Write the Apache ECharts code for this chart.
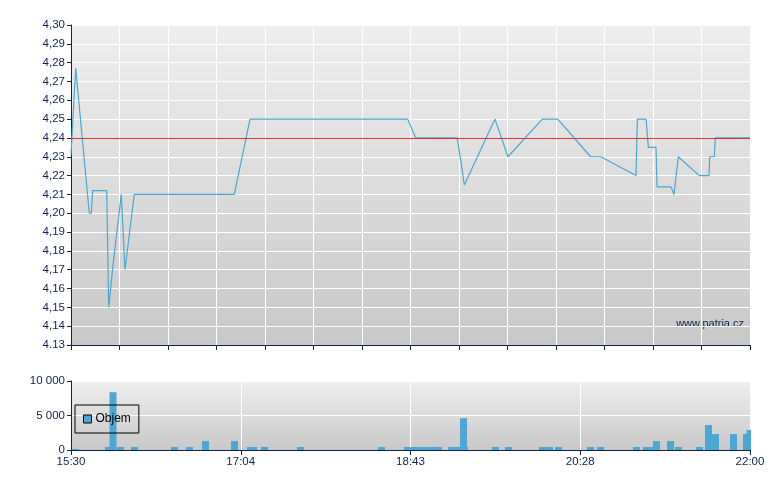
<!DOCTYPE html>
<html>
<head>
<meta charset="utf-8">
<script src="https://cdn.jsdelivr.net/npm/echarts@6/dist/echarts.min.js"></script>
<style>
  html, body { margin: 0; padding: 0; background: #fff; }
  #chart1 { width: 780px; height: 490px; }
</style>
</head>
<body>
<div id="chart1"></div>
<script>
// session position 0..140 (15:30 .. 22:00)
var priceT = [0, 0.97, 3.77, 4.19, 4.47, 7.36, 7.77, 8.60, 10.37, 10.58, 11.13, 13.05, 33.67, 36.91,
  69.42, 71.07, 79.65, 81.10, 87.42, 90.10, 97.18, 100.35, 107.16, 109.22, 116.50, 116.77, 118.56,
  119.04, 120.62, 120.83, 123.71, 124.33, 125.22, 129.55, 131.55, 131.70, 132.64, 132.85, 140];
var priceV = [4.231, 4.277, 4.20, 4.20, 4.212, 4.212, 4.15, 4.171, 4.21, 4.21, 4.17, 4.21, 4.21, 4.25,
  4.25, 4.24, 4.24, 4.215, 4.25, 4.23, 4.25, 4.25, 4.23, 4.23, 4.22, 4.25, 4.25,
  4.235, 4.235, 4.214, 4.214, 4.21, 4.23, 4.22, 4.22, 4.23, 4.23, 4.24, 4.24];
var refPrice = 4.24;

var volT = [0.89, 7.73, 8.66, 10.21, 13.09, 21.34, 24.43, 27.73, 33.71, 37.01, 37.63, 39.90, 47.32,
  64.02, 69.38, 70.83, 72.27, 73.71, 75.16, 75.77, 78.46, 79.49, 81.14, 80.93, 87.53, 90.21,
  97.22, 98.66, 100.52, 107.12, 109.18, 116.60, 118.66, 119.28, 120.72, 123.61, 125.26, 129.59,
  131.44, 132.89, 136.60, 139.28, 140];
var volV = [150, 430, 8370, 430, 430, 430, 430, 1300, 1300, 430, 430, 430, 430,
  430, 430, 430, 430, 430, 430, 430, 430, 430, 430, 4620, 430, 430,
  430, 430, 430, 430, 430, 430, 430, 430, 1300, 1300, 430, 430,
  3610, 2310, 2310, 2310, 2890];

var timeLabels = ['15:30', '17:04', '18:43', '20:28', '22:00'];
var priceLabels = ['4.13', '4,14', '4,15', '4,16', '4,17', '4,18', '4,19', '4,20', '4,21',
  '4,22', '4,23', '4,24', '4,25', '4,26', '4,27', '4,28', '4,29', '4,30'];
var volLabels = ['0', '5 000', '10 000'];

var navy = '#0f2350';
var lineBlue = '#4aa8d2';
var bg = new echarts.graphic.LinearGradient(0, 0, 0, 1, [
  { offset: 0, color: '#efefef' }, { offset: 1, color: '#c8c8c8' }
]);

var priceData = [];
for (var i = 0; i < priceT.length; i++) priceData.push([priceT[i], priceV[i]]);
var volData = [];
for (var j = 0; j < volT.length; j++) volData.push([volT[j], volV[j]]);

var myChart = echarts.init(document.getElementById('chart1'));
var option = {
  animation: false,
  textStyle: { fontFamily: 'Liberation Sans' },
  grid: [
    { left: 71, right: 30, top: 25, height: 320, show: true, borderWidth: 0, backgroundColor: bg },
    { left: 71, right: 30, top: 381, height: 69, show: true, borderWidth: 0, backgroundColor: bg }
  ],
  legend: {
    data: [{ name: 'Objem', itemStyle: { color: lineBlue, borderColor: '#000', borderWidth: 1 } }],
    left: 75, top: 405,
    padding: [8, 8, 8, 8],
    borderColor: '#000', borderWidth: 1, borderRadius: 0,
    icon: 'rect', itemWidth: 8, itemHeight: 8, itemGap: 4,
    textStyle: { color: '#000', fontSize: 12, fontFamily: 'Liberation Sans', padding: [0, 0, 0, -1] }
  },
  xAxis: [
    {
      gridIndex: 0, type: 'value', min: 0, max: 140, interval: 10,
      axisLine: { lineStyle: { color: navy, width: 1 } },
      axisTick: { show: true, length: 5, lineStyle: { color: navy } },
      axisLabel: { show: false },
      splitLine: { show: true, lineStyle: { color: '#ffffff', width: 1 } }
    },
    {
      gridIndex: 1, type: 'value', min: 0, max: 140, interval: 35,
      axisLine: { lineStyle: { color: navy, width: 1 } },
      axisTick: { show: true, length: 5, lineStyle: { color: navy } },
      axisLabel: {
        color: navy, fontSize: 11.5, margin: 6,
        formatter: function (v) { return timeLabels[Math.round(v / 35)]; }
      },
      splitLine: { show: true, lineStyle: { color: '#ffffff', width: 1 } }
    }
  ],
  yAxis: [
    {
      gridIndex: 0, type: 'value', min: 4.13, max: 4.30, interval: 0.01,
      axisLine: { show: true, lineStyle: { color: navy, width: 1 } },
      axisTick: { show: true, length: 4, lineStyle: { color: navy } },
      axisLabel: {
        color: navy, fontSize: 11.5, margin: 6,
        formatter: function (v) { return priceLabels[Math.round((v - 4.13) / 0.01)]; }
      },
      splitLine: { show: true, lineStyle: { color: '#ffffff', width: 1 } }
    },
    {
      gridIndex: 1, type: 'value', min: 0, max: 10000, interval: 5000,
      axisLine: { show: true, lineStyle: { color: navy, width: 1 } },
      axisTick: { show: true, length: 4, lineStyle: { color: navy } },
      axisLabel: {
        color: navy, fontSize: 11.5, margin: 6,
        formatter: function (v) { return volLabels[Math.round(v / 5000)]; }
      },
      splitLine: { show: true, lineStyle: { color: '#ffffff', width: 1 } }
    }
  ],
  graphic: [
    {
      type: 'text', right: 36, top: 318,
      style: { text: 'www.patria.cz', fill: navy, font: '11px "Liberation Sans"' }
    }
  ],
  series: [
    {
      name: 'Cena', type: 'line', xAxisIndex: 0, yAxisIndex: 0,
      data: priceData, showSymbol: false, symbol: 'none',
      lineStyle: { color: lineBlue, width: 1.2 },
      itemStyle: { color: lineBlue },
      markLine: {
        silent: true, symbol: ['none', 'none'], label: { show: false },
        lineStyle: { color: '#e03030', width: 1.2, type: 'solid' },
        data: [{ yAxis: refPrice }]
      },
      z: 3
    },
    {
      name: 'Objem', type: 'bar', xAxisIndex: 1, yAxisIndex: 1,
      data: volData, barWidth: 7, clip: true,
      itemStyle: { color: lineBlue }
    }
  ]
};
myChart.setOption(option);
</script>
</body>
</html>
